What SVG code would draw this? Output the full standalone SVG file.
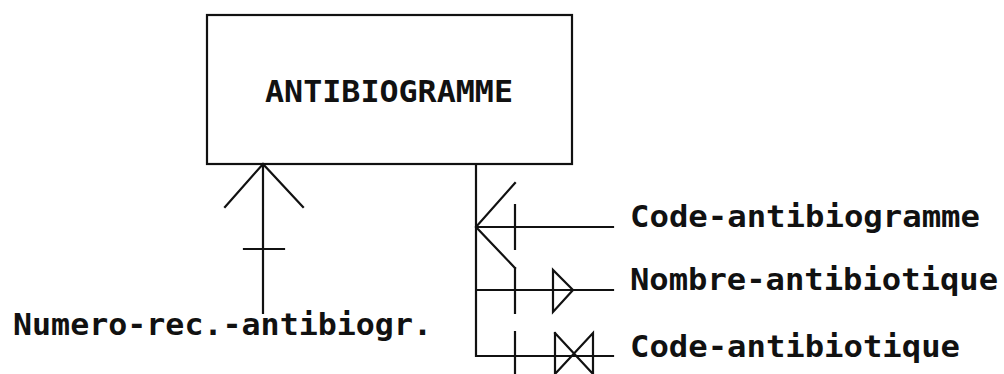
<svg xmlns="http://www.w3.org/2000/svg" width="1004" height="374" viewBox="0 0 1004 374">
<style>
.ln{stroke:#111;stroke-width:2.2;fill:none;stroke-linecap:square}
.t{font-family:"DejaVu Sans Mono","Liberation Mono",monospace;font-weight:bold;font-size:31px;fill:#111}
</style>
<rect width="1004" height="374" fill="#fff"/>
<g id="node-antibiogramme">
<rect x="207" y="15" width="365" height="149" class="ln" stroke-width="2.5"/>
<text class="t" x="265" y="102" textLength="248" lengthAdjust="spacingAndGlyphs">ANTIBIOGRAMME</text>
</g>
<g id="node-numero"><text class="t" x="13" y="335" textLength="419" lengthAdjust="spacingAndGlyphs">Numero-rec.-antibiogr.</text></g>
<g id="node-code-antibiogramme"><text class="t" x="630" y="227" textLength="350" lengthAdjust="spacingAndGlyphs">Code-antibiogramme</text></g>
<g id="node-nombre"><text class="t" x="630" y="290" textLength="368" lengthAdjust="spacingAndGlyphs">Nombre-antibiotique</text></g>
<g id="node-code-antibiotique"><text class="t" x="630" y="357" textLength="330" lengthAdjust="spacingAndGlyphs">Code-antibiotique</text></g>
<g id="connectors" class="ln">
<path d="M263 164V313M263 164L225 207M263 164L303 207M244 249H284"/>
<path d="M476 164V356H613M476 227H613M476 290H613"/>
<path d="M476 227L515 183M476 227L515 268M515 205V249"/>
<path d="M515 268V313M553 270V312L573 290Z"/>
<path d="M515 332V374M555 333V374L593 333V374L555 333"/>
</g>
</svg>
